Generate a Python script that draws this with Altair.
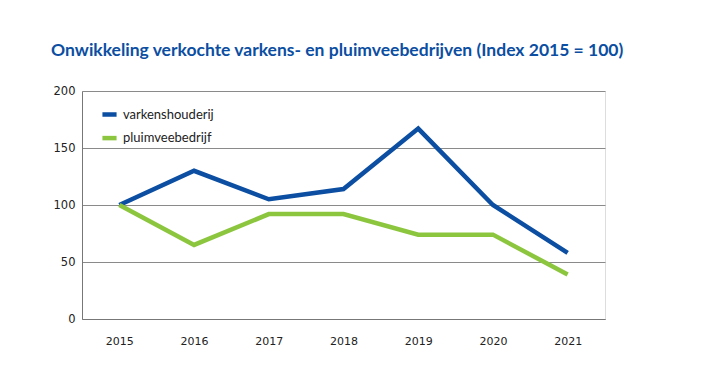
import altair as alt
import pandas as pd

years = [2015, 2016, 2017, 2018, 2019, 2020, 2021]
varkens = [100, 130, 105, 114, 167, 100, 58]
pluimvee = [100, 65, 92, 92, 74, 74, 39]
series_names = ["varkenshouderij", "pluimveebedrijf"]
series_colors = ["#0b4ea2", "#8cc63f"]
y_ticks = [0, 50, 100, 150, 200]
x_axis_values = [2015, 2015.5, 2016, 2016.5, 2017, 2017.5, 2018, 2018.5,
                 2019, 2019.5, 2020, 2020.5, 2021, 2021.5]

rows = []
for name, vals in zip(series_names, [varkens, pluimvee]):
    for y, v in zip(years, vals):
        rows.append({"jaar": y, "index": v, "reeks": name})
df = pd.DataFrame(rows)

title = alt.TitleParams(
    "Onwikkeling verkochte varkens- en pluimveebedrijven (Index 2015 = 100)",
    anchor="start", font="Lato", fontSize=17.5, fontWeight="bold",
    color="#0b4ea2", dx=-2, offset=12, baseline="alphabetic",
)

chart = alt.Chart(df, title=title).mark_line(strokeWidth=4.5, strokeJoin="miter").encode(
    x=alt.X("jaar:Q",
            scale=alt.Scale(domain=[2014.5, 2021.5], nice=False, zero=False),
            axis=alt.Axis(
                title=None, values=x_axis_values, format="d",
                labelExpr="datum.value % 1 ? '' : datum.label",
                grid=False, domainColor="#777777", domainWidth=1,
                tickColor="#777777", tickWidth=1,
                tickSize=alt.ExprRef("-5"),
                tickOpacity={"condition": {"test": "datum.value % 1 == 0", "value": 0}, "value": 1},
                labelFont="DejaVu Sans", labelFontSize=11, labelColor="#222222",
                labelPadding=21, labelFlush=False,
            )),
    y=alt.Y("index:Q",
            scale=alt.Scale(domain=[0, 200], nice=False),
            axis=alt.Axis(
                title=None, values=y_ticks, grid=True, gridColor="#8a8a8a",
                gridWidth=1, ticks=False, domainColor="#777777",
                labelFont="DejaVu Sans", labelFontSize=11.5, labelColor="#222222",
                labelPadding=7,
            )),
    color=alt.Color("reeks:N",
                    scale=alt.Scale(domain=series_names, range=series_colors),
                    sort=series_names,
                    legend=alt.Legend(
                        title=None, orient="none", legendX=18, legendY=14,
                        symbolType="stroke", symbolStrokeWidth=4.5, symbolSize=200,
                        labelFont="Lato", labelFontSize=13, labelColor="#222222",
                        labelOffset=4, rowPadding=4.6, padding=0,
                    )),
    order=alt.Order("jaar:Q"),
).properties(
    width=523, height=228,
    autosize=alt.AutoSizeParams(type="none"),
    padding={"left": 74, "top": 83, "right": 100, "bottom": 40},
).configure_view(stroke=None).configure(background="white")

chart.save("out.html", embed_options={"renderer": "svg", "actions": False})
